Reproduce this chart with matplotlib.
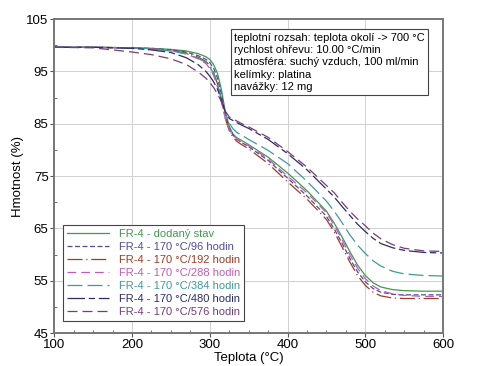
import numpy as np
import matplotlib
matplotlib.use("Agg")
import matplotlib.pyplot as plt
from matplotlib.ticker import MultipleLocator

plt.rcParams['font.family'] = ['Liberation Sans', 'DejaVu Sans']

# temperature grid (°C)
temp = [100, 150, 200, 225, 250, 270, 285, 295, 300, 305, 310, 315, 320, 325, 330, 335, 340,
        350, 375, 400, 425, 450, 460, 470, 480, 490, 500, 510, 520, 535, 550, 575, 600]

# mass (%) for each sample
m_delivered = [99.6, 99.6, 99.5, 99.4, 99.2, 98.9, 98.4, 97.8, 97.3, 96.3, 94.6, 91.5, 87.3, 84.5, 83.0, 82.3, 81.9,
               81.0, 78.6, 75.6, 72.2, 68.3, 66.0, 63.4, 60.6, 58.0, 56.0, 54.6, 53.8, 53.3, 53.1, 53.0, 53.0]
m_96 = [99.6, 99.6, 99.5, 99.4, 99.1, 98.7, 98.0, 97.3, 96.7, 95.6, 93.7, 90.6, 86.8, 84.2, 82.8, 82.0, 81.5,
        80.6, 78.0, 74.6, 71.2, 67.3, 64.9, 62.2, 59.3, 56.7, 54.8, 53.5, 52.8, 52.4, 52.3, 52.3, 52.3]
m_192 = [99.6, 99.6, 99.5, 99.3, 99.0, 98.5, 97.7, 96.9, 96.1, 94.8, 92.6, 89.5, 86.0, 83.7, 82.4, 81.6, 81.1,
         80.2, 77.4, 73.9, 70.6, 66.7, 64.3, 61.5, 58.6, 56.0, 54.1, 52.8, 52.1, 51.7, 51.6, 51.6, 51.6]
m_288 = [99.6, 99.6, 99.5, 99.3, 98.9, 98.3, 97.4, 96.5, 95.6, 94.2, 92.0, 89.2, 86.0, 83.9, 82.8, 82.1, 81.6,
         80.8, 78.3, 75.0, 71.8, 68.0, 65.6, 62.9, 60.0, 57.4, 55.4, 54.0, 53.1, 52.5, 52.2, 52.0, 52.0]
m_384 = [99.6, 99.6, 99.5, 99.3, 98.9, 98.4, 97.5, 96.7, 95.9, 94.6, 92.6, 89.9, 87.0, 85.1, 84.0, 83.3, 82.9,
         82.0, 79.9, 77.4, 74.0, 70.2, 68.3, 66.1, 63.8, 61.8, 60.2, 58.8, 57.8, 56.8, 56.3, 56.0, 55.9]
m_480 = [99.6, 99.6, 99.4, 99.1, 98.6, 97.6, 96.3, 95.0, 94.1, 93.0, 91.6, 89.6, 87.2, 86.0, 85.6, 85.2, 84.8,
         84.1, 82.0, 79.3, 76.2, 72.5, 71.0, 69.2, 67.5, 65.8, 64.4, 63.1, 62.1, 61.3, 60.8, 60.4, 60.3]
m_576 = [99.6, 99.5, 98.7, 98.2, 97.4, 96.3, 94.9, 93.7, 92.9, 91.9, 90.7, 89.2, 87.4, 86.3, 85.9, 85.5, 85.1,
         84.4, 82.4, 79.7, 76.7, 73.2, 71.8, 70.0, 68.3, 66.8, 65.5, 64.1, 63.0, 61.9, 61.2, 60.7, 60.6]

labels = ["FR-4 - dodaný stav", "FR-4 - 170 °C/96 hodin", "FR-4 - 170 °C/192 hodin",
          "FR-4 - 170 °C/288 hodin", "FR-4 - 170 °C/384 hodin", "FR-4 - 170 °C/480 hodin",
          "FR-4 - 170 °C/576 hodin"]
series = [m_delivered, m_96, m_192, m_288, m_384, m_480, m_576]
colors = ["#3f9a4c", "#4c4ca8", "#a33a22", "#c25cb4", "#3f9a9c", "#2c2c6c", "#7a3c78"]
styles = ["-", (0, (4, 2)), (0, (12, 3, 1, 3)), (0, (7, 4)), (0, (12, 4)), (0, (14, 3, 5, 3)), (0, (8, 4))]

info = ("teplotní rozsah: teplota okolí -> 700 °C\n"
        "rychlost ohřevu: 10.00 °C/min\n"
        "atmosféra: suchý vzduch, 100 ml/min\n"
        "kelímky: platina\n"
        "navážky: 12 mg")

fig = plt.figure(figsize=(4.88, 3.66), dpi=100)
ax = fig.add_axes([0.111, 0.090, 0.797, 0.858])

for y, lab, c, ls in zip(series, labels, colors, styles):
    ax.plot(temp, y, color=c, linestyle=ls, linewidth=0.9, label=lab)

ax.set_xlim(100, 600)
ax.set_ylim(45, 105)
ax.xaxis.set_major_locator(MultipleLocator(100))
ax.xaxis.set_minor_locator(MultipleLocator(25))
ax.yaxis.set_minor_locator(MultipleLocator(5))
ax.set_yticks([45, 55, 65, 75, 85, 95, 105])
ax.grid(True, which="major", color="#d0d0d0", linewidth=0.7)
ax.tick_params(which="major", direction="out", length=3, labelsize=9.5, color="#555555", pad=1)
ax.tick_params(which="minor", direction="in", length=2, color="#555555")
for s in ax.spines.values():
    s.set_color("#777777")
    s.set_linewidth(1.4)

ax.set_xlabel("Teplota (°C)", fontsize=9.5, labelpad=1)
ax.set_ylabel("Hmotnost (%)", fontsize=9.5, labelpad=2)

leg = ax.legend(loc="lower left", fontsize=8.0, handlelength=3.8, handletextpad=0.9,
                labelspacing=0.27, borderpad=0.35, fancybox=False, framealpha=1,
                edgecolor="#444444", bbox_to_anchor=(0.008, 0.02))
leg.get_frame().set_linewidth(0.8)
for t, c in zip(leg.get_texts(), colors):
    t.set_color(c)

ax.text(0.463, 0.957, info, transform=ax.transAxes, ha="left", va="top", fontsize=8.0,
        linespacing=1.3,
        bbox=dict(boxstyle="square,pad=0.3", facecolor="white", edgecolor="#444444", linewidth=0.8))

fig.savefig("out.png", dpi=100)
